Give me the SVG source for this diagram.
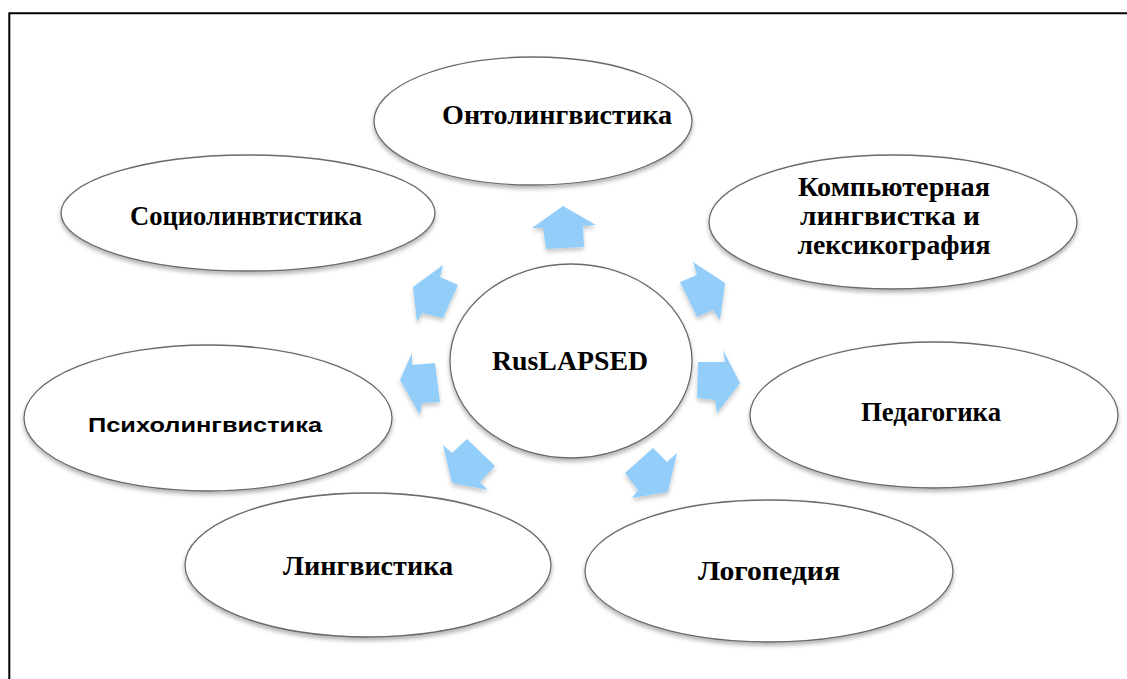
<svg xmlns="http://www.w3.org/2000/svg" width="1127" height="679" viewBox="0 0 1127 679">
<defs>
<filter id="sh" x="-10%" y="-10%" width="120%" height="130%">
<feDropShadow dx="0" dy="3" stdDeviation="2" flood-color="#000" flood-opacity="0.3"/>
</filter>
<filter id="ash" x="-20%" y="-20%" width="140%" height="150%">
<feDropShadow dx="0" dy="3" stdDeviation="2" flood-color="#000" flood-opacity="0.22"/>
</filter>
</defs>
<style>
.el{fill:#fff;stroke:#6a6a6a;stroke-width:1.3;filter:url(#sh)}
.t{font-family:"Liberation Serif","Times New Roman",serif;font-weight:bold;font-size:28px;fill:#000;text-anchor:middle}
.ts{font-family:"Liberation Sans",Arial,sans-serif;font-weight:bold;font-size:20px;fill:#000;text-anchor:middle}
.ar{fill:#93cefb;filter:url(#ash)}
.fr{stroke:#000;stroke-width:2;fill:none}
</style>
<rect width="1127" height="679" fill="#fff"/>
<path class="fr" d="M9.3,679 V13.3 H1127"/>
<g id="n-onto"><ellipse class="el" cx="533" cy="121" rx="159" ry="64"/><text class="t" x="557" y="124" textLength="230" lengthAdjust="spacingAndGlyphs">Онтолингвистика</text></g>
<g id="n-socio"><ellipse class="el" cx="248" cy="213" rx="187" ry="58"/><text class="t" x="246" y="225" textLength="232" lengthAdjust="spacingAndGlyphs">Социолинвтистика</text></g>
<g id="n-comp"><ellipse class="el" cx="893" cy="222" rx="184" ry="67"/><text class="t" x="894" y="196" style="font-size:27px" textLength="192" lengthAdjust="spacingAndGlyphs">Компьютерная</text><text class="t" x="890" y="225" style="font-size:27px" textLength="180" lengthAdjust="spacingAndGlyphs">лингвистка и</text><text class="t" x="894" y="254" style="font-size:27px" textLength="193" lengthAdjust="spacingAndGlyphs">лексикография</text></g>
<g id="n-center"><ellipse class="el" cx="571" cy="361" rx="121" ry="97"/><text class="t" x="570" y="370" textLength="156" lengthAdjust="spacingAndGlyphs">RusLAPSED</text></g>
<g id="n-psycho"><ellipse class="el" cx="208" cy="418" rx="184" ry="73"/><text class="ts" x="205" y="432" textLength="234" lengthAdjust="spacingAndGlyphs">Психолингвистика</text></g>
<g id="n-ped"><ellipse class="el" cx="934" cy="415" rx="184" ry="73"/><text class="t" x="931" y="421" textLength="140" lengthAdjust="spacingAndGlyphs">Педагогика</text></g>
<g id="n-ling"><ellipse class="el" cx="368" cy="565" rx="183" ry="72"/><text class="t" x="368" y="575" textLength="170" lengthAdjust="spacingAndGlyphs">Лингвистика</text></g>
<g id="n-logo"><ellipse class="el" cx="769" cy="571" rx="184" ry="71"/><text class="t" x="769" y="580" textLength="142" lengthAdjust="spacingAndGlyphs">Логопедия</text></g>
<g id="connectors">
<polygon class="ar" points="546,249 543,228 532,228 563,206 596,225 583,226 584,247"/>
<polygon class="ar" points="458,285 440,277 443,265 413,287 417,322 422,313 443,318"/>
<polygon class="ar" points="680,282 697,275 693,262 725,283 720,320 713,310 697,317"/>
<polygon class="ar" points="698,362 725,362 723,350 740,383 717,413 715,400 697,398"/>
<polygon class="ar" points="435,363 412,365 412,353 400,380 420,415 422,403 440,402"/>
<polygon class="ar" points="467,439 452,453 443,445 452,483 488,490 480,482 495,466"/>
<polygon class="ar" points="653,448 667,462 677,453 668,492 632,498 638,490 625,473"/>
</g>
</svg>
